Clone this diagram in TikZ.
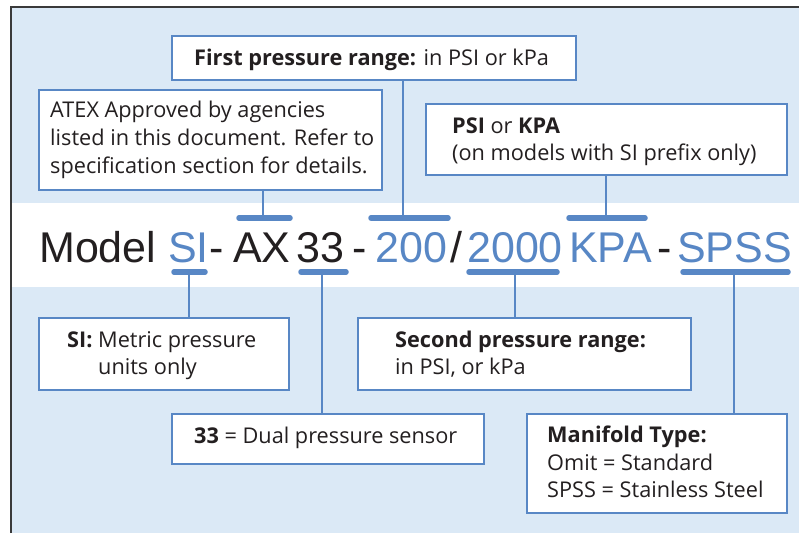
\documentclass[tikz,border=0pt]{standalone}
\usepackage{fontspec}
\setmainfont{Open Sans}
\newfontfamily\modelfont{Liberation Sans}
\definecolor{bgblue}{HTML}{DBE9F6}
\definecolor{lineblue}{HTML}{5887C5}
\definecolor{ink}{HTML}{231F20}
\definecolor{framegray}{HTML}{3A3A3A}
\begin{document}
\begin{tikzpicture}[x=1pt,y=-1pt,
  box/.style={draw=lineblue,line width=2pt,fill=white,anchor=north west,inner sep=0pt},
  txt/.style={anchor=base west,inner sep=0pt,text=ink,font=\fontsize{21.7}{27}\selectfont},
  big/.style={anchor=base west,inner sep=0pt,text=ink,font=\modelfont\fontsize{43}{50}\selectfont},
  bigblue/.style={big,text=lineblue},
  bar/.style={draw=lineblue,line width=5.5pt,line cap=round},
  conn/.style={draw=lineblue,line width=2.5pt}]
\useasboundingbox (0,0) rectangle (799,533);
\fill[bgblue] (11,7) rectangle (799,533);
\fill[white] (11,203) rectangle (799,287);
\draw[framegray,line width=1.5pt] (11,533) -- (11,7) -- (799,7);

% bar coordinates
\coordinate (aL) at (239,218); \coordinate (aR) at (290,218); \coordinate (aC) at (263,218);
\coordinate (bL) at (371,218); \coordinate (bR) at (448,218); \coordinate (bC) at (403,218);
\coordinate (cL) at (569,218); \coordinate (cR) at (645,218); \coordinate (cC) at (606,218);
\coordinate (dL) at (174,272); \coordinate (dR) at (205,272); \coordinate (dC) at (189,272);
\coordinate (eL) at (301,272); \coordinate (eR) at (346,272); \coordinate (eC) at (322,272);
\coordinate (fL) at (469,272); \coordinate (fR) at (557,272); \coordinate (fC) at (515,272);
\coordinate (gL) at (683,272); \coordinate (gR) at (788,272); \coordinate (gC) at (734,272);

% boxes
\node[box,minimum width=404pt,minimum height=44pt] (first) at (171,35) {};
\node[box,minimum width=343pt,minimum height=100pt] (atex) at (38,89) {};
\node[box,minimum width=361pt,minimum height=71pt] (psi) at (425,103) {};
\node[box,minimum width=250pt,minimum height=72pt] (si) at (38,317) {};
\node[box,minimum width=333pt,minimum height=72pt] (second) at (357,317) {};
\node[box,minimum width=312pt,minimum height=50pt] (dual) at (171,413) {};
\node[box,minimum width=260pt,minimum height=99pt] (manifold) at (526,413) {};

% connectors
\draw[conn] (atex.south -| aC) -- (aC);
\draw[conn] (first.south -| bC) -- (bC);
\draw[conn] (psi.south -| cC) -- (cC);
\draw[conn] (dC) -- (si.north -| dC);
\draw[conn] (eC) -- (dual.north -| eC);
\draw[conn] (fC) -- (second.north -| fC);
\draw[conn] (gC) -- (manifold.north -| gC);

% bars
\draw[bar] (aL) -- (aR);
\draw[bar] (bL) -- (bR);
\draw[bar] (cL) -- (cR);
\draw[bar] (dL) -- (dR);
\draw[bar] (eL) -- (eR);
\draw[bar] (fL) -- (fR);
\draw[bar] (gL) -- (gR);

% box texts
\node[txt] (t1) at (194,65) {\textbf{First pressure range:} in PSI or kPa};
\node[txt] (t2) at (50,117) {ATEX Approved by agencies};
\node[txt] (t3) at (50,145) {listed in this document. Refer to};
\node[txt] (t4) at (50,173) {specification section for details.};
\node[txt] (t5) at (452,133) {\textbf{PSI} or \textbf{KPA}};
\node[txt] (t6) at (452,160) {(on models with SI prefix only)};
\node[txt] (t7) at (67,347) {\textbf{SI:} Metric pressure};
\node[txt] (t8) at (98,374) {units only};
\node[txt] (t9) at (395,347) {\textbf{Second pressure range:}};
\node[txt] (t10) at (395,374) {in PSI, or kPa};
\node[txt] (t11) at (194,443) {\textbf{33} = Dual pressure sensor};
\node[txt] (t12) at (547,442) {\textbf{Manifold Type:}};
\node[txt] (t13) at (547,470) {Omit = Standard};
\node[txt] (t14) at (547,497) {SPSS = Stainless Steel};

% model code
\node[big] (model) at (39,262) {Model};
\node[bigblue] (msi) at (168,262) {SI};
\node[big] (d1) at (209,262) {-};
\node[big] (ax) at (233,262) {AX};
\node[big] (m33) at (296,262) {33};
\node[big] (d2) at (352,262) {-};
\node[bigblue] (m200) at (375,262) {200};
\node[big] (sl) at (450,262) {/};
\node[bigblue] (m2000) at (467,262) {2000};
\node[bigblue] (kpa) at (569,262) {KPA};
\node[big] (d3) at (657,262) {-};
\node[bigblue] (spss) at (677,262) {SPSS};
\end{tikzpicture}
\end{document}
